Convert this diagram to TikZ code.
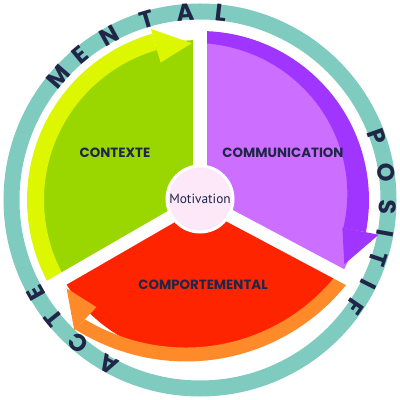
\documentclass[tikz,border=0pt]{standalone}
\usepackage{fontspec}
\setmainfont{Poppins}
\newfontfamily\motfont{PT Sans}

\definecolor{ringteal}{HTML}{7FCBC0}
\definecolor{navy}{HTML}{1F2648}
\definecolor{grnfill}{HTML}{9AD600}
\definecolor{grnband}{HTML}{DDF700}
\definecolor{purfill}{HTML}{CC6EFF}
\definecolor{purband}{HTML}{A035FF}
\definecolor{redfill}{HTML}{FF2400}
\definecolor{orgband}{HTML}{FF8A2A}
\definecolor{motpink}{HTML}{FDE8FA}

\begin{document}
\begin{tikzpicture}[x=0.025cm, y=0.025cm,
  sectortext/.style={font=\fontsize{9.5}{10}\selectfont\bfseries, text=navy},
  ringletter/.style={font=\fontsize{17}{18}\selectfont\bfseries, text=navy, inner sep=0pt},
  gap/.style={white, line width=0.325cm},
  declare function={rorg(\t)=161-0.19*(\t-270)+0.0054*(\t-270)^2;}]

\useasboundingbox (-200,-200) rectangle (200,200);

% outer ring
\draw[ringteal, line width=0.4cm] (0,0) circle (188.5);

% sectors
\fill[grnfill] (0,0) -- (90:160) arc[start angle=90, end angle=210, radius=160] -- cycle;
\fill[purfill] (0,0) -- (-28:160) arc[start angle=-28, end angle=90, radius=160] -- cycle;
\fill[redfill] (0,0) -- (210:158) arc[start angle=210, end angle=332, radius=158] -- cycle;

% arrow bands
\fill[grnband] (210:173) arc[start angle=210, end angle=106, radius=173]
  -- (106:156) arc[start angle=106, end angle=210, radius=156] -- cycle;
\fill[purband] plot[domain=90:-11, samples=50] (\x:169) -- plot[domain=-11:90, samples=50] (\x:{146+11*(\x+11)/101}) -- cycle;
\fill[orgband] plot[domain=332:226, samples=60] (\x:{rorg(\x)}) -- plot[domain=226:332, samples=60] (\x:{rorg(\x)-14}) -- cycle;

% white gaps
\foreach \ang in {90,210,-28}
  \draw[gap] (0,0) -- (\ang:179);

% arrow heads
\fill[grnband] (106:143) -- (106:178) -- (93:157) -- cycle;
\fill[purband] (-11:145) -- (-11:182) -- (-24:158) -- cycle;
\fill[orgband] (226:149) -- (226:181) -- (213.5:160) -- cycle;

% labels
\node[sectortext] (ctx) at (-85,47) {CONTEXTE};
\node[sectortext] (com) at (83,47) {COMMUNICATION};
\node[sectortext] (cmp) at (3,-85) {COMPORTEMENTAL};

\node[circle, fill=motpink, draw=white, line width=0.075cm, minimum size=1.65cm,
  inner sep=0pt, text=navy, font=\motfont\fontsize{9.5}{10}\selectfont] (mot) at (0,1) {Motivation};

% ring text
\foreach \ch/\ang [count=\i] in {A/241, C/229.5, T/219, E/209.5,
    M/139, E/129.5, N/119, T/106.5, A/94.5, L/83.5,
    P/19.6, O/8.4, S/-2.1, I/-10.1, T/-18.3, I/-26.6, F/-34.5}
  \node[ringletter, rotate={\ang-90}] (ring\i) at (\ang:188) {\ch};

\end{tikzpicture}
\end{document}
